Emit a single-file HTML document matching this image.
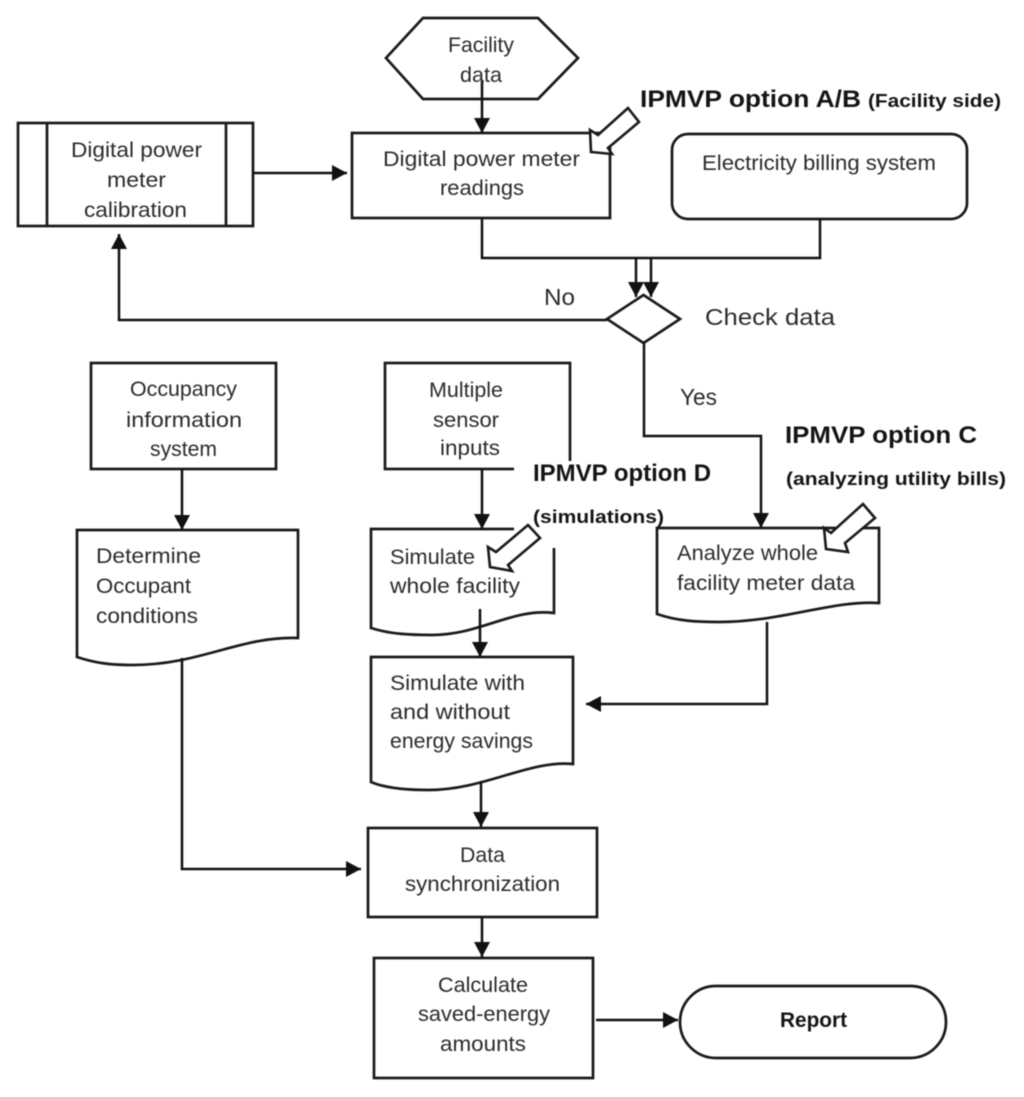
<!DOCTYPE html>
<html><head><meta charset="utf-8">
<style>
html,body{margin:0;padding:0;background:#fff}
svg{display:block;filter:blur(.45px)}
text{font-family:"Liberation Sans",sans-serif;fill:#2b2b2b;font-size:21px;text-anchor:start}
.b{font-weight:bold;fill:#141414}
.s{fill:none;stroke:#1a1a1a;stroke-width:2.7}
.l{fill:none;stroke:#111;stroke-width:2.5}
.w{fill:#fff;stroke:#1a1a1a;stroke-width:2.6;stroke-linejoin:miter}
</style></head><body>
<svg width="1024" height="1097" viewBox="0 0 1024 1097" xmlns="http://www.w3.org/2000/svg">
<defs><marker id="a" markerUnits="userSpaceOnUse" markerWidth="16" markerHeight="18" refX="15" refY="9" orient="auto"><path d="M0 1L15 9L0 17Z" fill="#111"/></marker></defs>

<!-- Shapes -->
<path class="s" d="M423 18H538L578 58L538 99H423L386 58Z"/>
<rect class="s" x="18" y="123" width="235" height="103"/>
<path class="s" d="M47 123V226M226 123V226"/>
<rect class="s" x="352" y="133" width="258" height="85"/>
<rect class="s" x="672" y="134" width="295" height="85" rx="16"/>
<rect class="s" x="91" y="363" width="185" height="106"/>
<rect class="s" x="385" y="363" width="185" height="106"/>
<path class="s" d="M77 530H298V638C240 636 200 665 133 665C110 665 95 663 77 657Z"/>
<path class="s" d="M371 529H554V613C512 608 480 635 432 635C410 635 390 634 371 628Z"/>
<path class="s" d="M657 528H879V603C832 600 782 622 719 622C697 622 677 621 657 614Z"/>
<path class="s" d="M371 657H573V764C528 760 485 790 428 790C405 790 385 788 371 782Z"/>
<rect class="s" x="368" y="828" width="229" height="89"/>
<rect class="s" x="374" y="958" width="219" height="120"/>
<rect class="s" x="680" y="986" width="266" height="72" rx="36"/>
<path class="s" d="M643.5 295L680 319L643.5 343L607 319Z"/>

<!-- White patch behind the option D label -->
<rect x="514" y="461" width="141" height="87" fill="#fff"/>

<!-- Connectors -->
<path class="l" marker-end="url(#a)" d="M482 80V133"/>
<path class="l" marker-end="url(#a)" d="M253 173H347"/>
<path class="l" d="M482 218V258H820V219"/>
<path class="l" marker-end="url(#a)" d="M636 258V297"/>
<path class="l" marker-end="url(#a)" d="M651 258V297"/>
<path class="l" marker-end="url(#a)" d="M607 320H119V234"/>
<path class="l" marker-end="url(#a)" d="M644 343V436H761V528"/>
<path class="l" marker-end="url(#a)" d="M182 469V530"/>
<path class="l" marker-end="url(#a)" d="M182 658V869H361"/>
<path class="l" marker-end="url(#a)" d="M482 469V529"/>
<path class="l" marker-end="url(#a)" d="M480 609V657"/>
<path class="l" marker-end="url(#a)" d="M767 622V704H586"/>
<path class="l" marker-end="url(#a)" d="M481 781V827"/>
<path class="l" marker-end="url(#a)" d="M482 917V957"/>
<path class="l" marker-end="url(#a)" d="M596 1020H678"/>

<!-- Block arrows -->
<path class="w" d="M628 108L639 122L608 148L612 154L591 152L590 130L598 135Z"/>
<path class="w" d="M528 525L540 538L508 565L512 571L490 567L488 547L496 552Z"/>
<path class="w" d="M863 504L875 518L845 543L848 552L826 549L824 528L831 533Z"/>

<!-- Node text -->
<text x="448" y="52" textLength="66" lengthAdjust="spacingAndGlyphs">Facility</text>
<text x="460" y="82" textLength="42" lengthAdjust="spacingAndGlyphs">data</text>

<text x="71" y="157" textLength="131" lengthAdjust="spacingAndGlyphs">Digital power</text>
<text x="107" y="187" textLength="59" lengthAdjust="spacingAndGlyphs">meter</text>
<text x="84" y="217" textLength="103" lengthAdjust="spacingAndGlyphs">calibration</text>

<text x="383" y="166" textLength="197" lengthAdjust="spacingAndGlyphs">Digital power meter</text>
<text x="440" y="195" textLength="84" lengthAdjust="spacingAndGlyphs">readings</text>

<text x="702" y="170" textLength="234" lengthAdjust="spacingAndGlyphs">Electricity billing system</text>

<text x="544" y="305" textLength="31" lengthAdjust="spacingAndGlyphs" style="font-size:23px">No</text>
<text x="705" y="325" textLength="130" lengthAdjust="spacingAndGlyphs" style="font-size:23px">Check data</text>
<text x="680" y="405" textLength="37" lengthAdjust="spacingAndGlyphs" style="font-size:23px">Yes</text>

<text x="130" y="396" textLength="107" lengthAdjust="spacingAndGlyphs">Occupancy</text>
<text x="126" y="427" textLength="116" lengthAdjust="spacingAndGlyphs">information</text>
<text x="150" y="456" textLength="67" lengthAdjust="spacingAndGlyphs">system</text>

<text x="429" y="397" textLength="74" lengthAdjust="spacingAndGlyphs">Multiple</text>
<text x="433" y="427" textLength="66" lengthAdjust="spacingAndGlyphs">sensor</text>
<text x="440" y="455" textLength="60" lengthAdjust="spacingAndGlyphs">inputs</text>

<text x="96" y="563" textLength="105" lengthAdjust="spacingAndGlyphs">Determine</text>
<text x="96" y="593" textLength="95" lengthAdjust="spacingAndGlyphs">Occupant</text>
<text x="96" y="623" textLength="102" lengthAdjust="spacingAndGlyphs">conditions</text>

<text x="390" y="564" textLength="85" lengthAdjust="spacingAndGlyphs">Simulate</text>
<text x="390" y="593" textLength="130" lengthAdjust="spacingAndGlyphs">whole facility</text>

<text x="677" y="560" textLength="141" lengthAdjust="spacingAndGlyphs">Analyze whole</text>
<text x="677" y="590" textLength="178" lengthAdjust="spacingAndGlyphs">facility meter data</text>

<text x="390" y="690" textLength="135" lengthAdjust="spacingAndGlyphs">Simulate with</text>
<text x="390" y="719" textLength="120" lengthAdjust="spacingAndGlyphs">and without</text>
<text x="390" y="748" textLength="143" lengthAdjust="spacingAndGlyphs">energy savings</text>

<text x="460" y="862" textLength="45" lengthAdjust="spacingAndGlyphs">Data</text>
<text x="405" y="891" textLength="155" lengthAdjust="spacingAndGlyphs">synchronization</text>

<text x="438" y="992" textLength="90" lengthAdjust="spacingAndGlyphs">Calculate</text>
<text x="418" y="1021" textLength="132" lengthAdjust="spacingAndGlyphs">saved-energy</text>
<text x="440" y="1051" textLength="86" lengthAdjust="spacingAndGlyphs">amounts</text>

<text class="b" x="780" y="1027" textLength="67" lengthAdjust="spacingAndGlyphs">Report</text>

<!-- Callouts -->
<text class="b" x="640" y="107" style="font-size:24px" textLength="221" lengthAdjust="spacingAndGlyphs">IPMVP option A/B</text>
<text class="b" x="868" y="107" style="font-size:18px" textLength="133" lengthAdjust="spacingAndGlyphs">(Facility side)</text>
<text class="b" x="785" y="443" style="font-size:24px" textLength="192" lengthAdjust="spacingAndGlyphs">IPMVP option C</text>
<text class="b" x="786" y="485" style="font-size:18px" textLength="220" lengthAdjust="spacingAndGlyphs">(analyzing utility bills)</text>
<text class="b" x="533" y="481" style="font-size:24px" textLength="178" lengthAdjust="spacingAndGlyphs">IPMVP option D</text>
<text class="b" x="533" y="523" style="font-size:18px" textLength="131" lengthAdjust="spacingAndGlyphs">(simulations)</text>
</svg>
</body></html>
